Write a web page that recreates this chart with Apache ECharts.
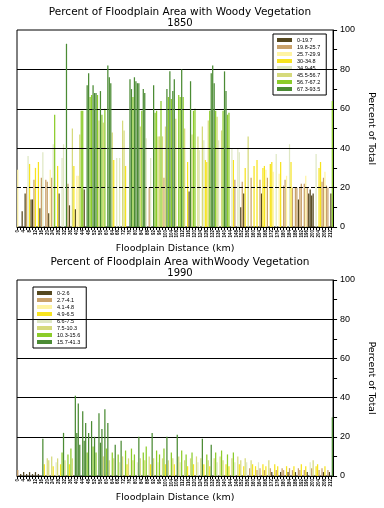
<!DOCTYPE html>
<html>
<head>
<meta charset="utf-8">
<script src="https://cdn.jsdelivr.net/npm/echarts@6/dist/echarts.min.js"></script>
<style>
html,body{margin:0;padding:0;background:#fff;}
#chart{width:384px;height:508px;}
</style>
</head>
<body>
<div id="chart"></div>
<script>
// ---- data ----
const classColors = ['#55481f','#c9a26b','#fff4a3','#f7e41e','#dfe8c4','#d6da7c','#8ccc2a','#4b8b34'];

const classes1850 = ['0-19.7','19.8-25.7','25.7-29.9','30-34.8','34.9-45','45.5-56.7','56.7-67.2','67.3-93.5'];
const bounds1850 = [19.7, 25.7, 29.9, 34.8, 45, 56.7, 67.2, 100];

const classes1990 = ['0-2.6','2.7-4.1','4.1-4.8','4.9-6.5','6.6-7.5','7.5-10.3','10.3-15.6','15.7-41.3'];
const bounds1990 = [2.6, 4.1, 4.8, 6.5, 7.5, 10.3, 15.6, 100];

const values1850 = [
 29,0,0,8,0,17,20,36,32,14, 14,24,30,0,33,9.5,25,38,0,24,
 23,7,29,25,42,57,0,31,17,0, 35,42,0,93,22,11,0,50,31,9,
 26,26,47,59,59,19,0,72,78,66, 67,72,68,68,67,54,69,57,53,60,
 0,82,76,73,48,34,0,35,0,35, 0,54,49,31,0,0,75,70,66,76,
 74,73,73,51,59,70,68,45,0,20, 35,0,72,58,59,46,46,64,46,25,
 51,70,66,79,65,69,75,55,0,67, 66,80,66,50,0,33,18,74,47,59,
 60,0,46,39,0,51,44,34,33,54, 59,78,82,73,59,56,44,0,49,59,
 79,69,57,58,0,40,34,24,0,40, 38,10,23,17,30,0,46,0,25,0,
 31,0,34,0,24,17,30,31,29,25, 0,32,33,28,0,37,0,27,33,0,
 21,24,26,0,42,33,20,0,20,20, 14,20,22,0,22,26,20,17,19,16,
 17,0,37,0,30,33,23,25,28,21, 20,0,17,64
];

const values1990 = [
 3,0,1,0,2,0,1,0,2,0, 1,0,2,0,1,0,0,19,6,0,
 9,8,0,10,5,0,7,9,0,6, 12,22,8,0,11,6,14,9,0,41,
 22,37,16,0,33,18,27,12,22,0, 28,15,20,12,0,32,17,24,10,34,
 14,27,8,0,12,9,16,0,11,7, 18,10,0,13,6,9,0,14,8,11,
 0,7,20,9,0,12,8,15,0,10, 6,22,9,0,13,7,11,0,9,14,
 6,20,8,0,12,9,6,0,21,10, 7,13,0,8,11,5,0,9,12,6,
 0,10,7,0,9,19,6,0,11,8, 5,16,0,9,12,7,0,10,13,8,
 0,6,11,5,0,9,12,7,0,10, 6,8,0,5,9,7,0,4,8,6,
 0,5,3,7,4,0,6,3,5,0, 8,4,2,0,6,3,5,0,2,4,
 3,0,5,2,4,0,3,5,2,0, 4,3,6,0,3,5,2,0,7,4,
 8,0,5,6,3,0,4,2,5,0, 3,2,0,30
];

const distanceKm = values1850.map((v, i) => String(i));

// ---- helpers ----
function classOf(v, bounds) {
  for (let k = 0; k < bounds.length; k++) if (v <= bounds[k]) return k;
  return bounds.length - 1;
}
function buildSeries(values, bounds, names, idx, dashed20) {
  return names.map((name, k) => {
    const s = {
      type: 'bar', name: name, xAxisIndex: idx, yAxisIndex: idx, stack: 'p' + idx,
      barWidth: 1.25, animation: false,
      itemStyle: { color: classColors[k] },
      data: values.map(v => (v > 0 && classOf(v, bounds) === k) ? v : '-')
    };
    if (k === names.length - 1) {
      s.z = 5;
      s.markLine = {
        silent: true, symbol: 'none', animation: false,
        label: { show: false },
        lineStyle: { color: '#000', width: 1, type: 'solid' },
        data: [
          { yAxis: 20, lineStyle: { color: '#000', width: 1, type: dashed20 ? [4, 2] : 'solid' } },
          { yAxis: 40 }, { yAxis: 60 }, { yAxis: 80 }
        ]
      };
    }
    return s;
  });
}
function xAxisCfg(idx) {
  return {
    type: 'category', gridIndex: idx, data: distanceKm,
    name: 'Floodplain Distance (km)', nameLocation: 'middle', nameGap: 17,
    nameTextStyle: { fontFamily: 'DejaVu Sans', fontSize: 9.5, color: '#000' },
    axisLine: { lineStyle: { color: '#000', width: 1 } },
    axisTick: { show: true, interval: 1, length: 3, alignWithLabel: true, lineStyle: { color: '#000' } },
    axisLabel: { interval: 3, rotate: 90, fontSize: 4.5, fontWeight: 'bold', margin: 3, color: '#000', fontFamily: 'Liberation Sans' },
    splitLine: { show: false }
  };
}
function yAxisCfg(idx) {
  return {
    type: 'value', gridIndex: idx, position: 'right', min: 0, max: 100, interval: 20,
    name: 'Percent of Total', nameLocation: 'middle', nameRotate: -90, nameGap: 28,
    nameTextStyle: { fontFamily: 'DejaVu Sans', fontSize: 9.5, color: '#000' },
    axisLine: { show: true, lineStyle: { color: '#000', width: 1 } },
    axisTick: { show: true, length: 4, lineStyle: { color: '#000' } },
    minorTick: { show: true, splitNumber: 2, length: 4, lineStyle: { color: '#000' } },
    axisLabel: { fontSize: 9, margin: 7, color: '#000', fontFamily: 'Liberation Sans' },
    splitLine: { show: false }
  };
}
function legendCfg(names, left, top) {
  return {
    data: names, left: left, top: top, orient: 'vertical', icon: 'rect',
    itemWidth: 15, itemHeight: 4, itemGap: 1, selectedMode: false,
    backgroundColor: '#fff', borderColor: '#000', borderWidth: 1,
    padding: [3, 6, 3, 4],
    textStyle: { fontSize: 5.5, lineHeight: 5.7, color: '#000', fontFamily: 'Liberation Sans' }
  };
}

const chart = echarts.init(document.getElementById('chart'), null, { renderer: 'canvas' });
chart.setOption({
  animation: false,
  backgroundColor: '#fff',
  graphic: [
    { type: 'text', x: 180, y: 12, style: { text: 'Percent of Floodplain Area with Woody Vegetation', fill: '#000', font: '10.5px "DejaVu Sans"', textAlign: 'center', textVerticalAlign: 'middle' } },
    { type: 'text', x: 180, y: 23, style: { text: '1850', fill: '#000', font: '10px "DejaVu Sans"', textAlign: 'center', textVerticalAlign: 'middle' } },
    { type: 'text', x: 180, y: 262, style: { text: 'Percent of Floodplain Area withWoody Vegetation', fill: '#000', font: '10.5px "DejaVu Sans"', textAlign: 'center', textVerticalAlign: 'middle' } },
    { type: 'text', x: 180, y: 273, style: { text: '1990', fill: '#000', font: '10px "DejaVu Sans"', textAlign: 'center', textVerticalAlign: 'middle' } }
  ],
  grid: [
    { left: 17, right: 46, top: 30, bottom: 281, show: true, borderColor: '#000', borderWidth: 1, backgroundColor: 'transparent' },
    { left: 17, right: 46, top: 280, bottom: 32, show: true, borderColor: '#000', borderWidth: 1, backgroundColor: 'transparent' }
  ],
  legend: [ legendCfg(classes1850, 273, 34), legendCfg(classes1990, 33, 287) ],
  xAxis: [ xAxisCfg(0), xAxisCfg(1) ],
  yAxis: [ yAxisCfg(0), yAxisCfg(1) ],
  series: buildSeries(values1850, bounds1850, classes1850, 0, true)
    .concat(buildSeries(values1990, bounds1990, classes1990, 1, false))
});
</script>
</body>
</html>
